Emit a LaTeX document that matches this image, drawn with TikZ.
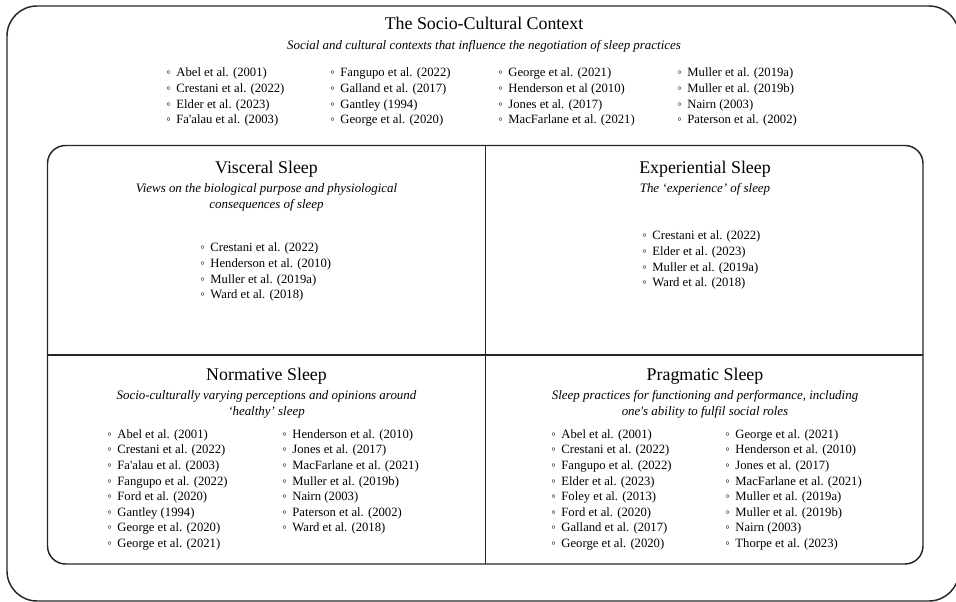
\documentclass[tikz,border=0pt]{standalone}
\usepackage{fontspec}
\setmainfont{Liberation Serif}
\tikzset{%
  frame/.style   = {draw=black!85, line width=1.1pt},%
  heading/.style = {font=\fontsize{13.4}{16}\selectfont, inner sep=0pt, anchor=base},%
  gloss/.style   = {font=\fontsize{9.7}{11.7}\selectfont\itshape, align=center,%
                    inner sep=0pt, anchor=base},%
  cite/.style    = {font=\fontsize{9.5}{11.7}\selectfont, inner sep=0pt, anchor=base west}%
}
% one column of sources, one node per line
\newcommand\citecol[4]{%
  \foreach \src [count=\i] in {#4}
    \node[cite] (#1-\i) at (#2,{#3+15.6*(\i-1)}) {◦\hspace{0.45em}\src};}

\begin{document}
\begin{tikzpicture}[x=0.75pt,y=-0.75pt]
	\useasboundingbox (0,0) rectangle (956,602);
	\clip (0,0) rectangle (956,602);
	% outer frame and the four quadrants
	\draw[frame, rounded corners=22.5pt] (7,6) rectangle (959,601);
	\draw[frame, rounded corners=13.5pt] (47.5,145.5) rectangle (923,564);
	\coordinate (midtop) at (485.5,145.5);
	\coordinate (midbot) at (485.5,564);
	\coordinate (midleft) at (47.5,355);
	\coordinate (midright) at (923,355);
	\draw[frame] (midtop) -- (midbot);
	\draw[frame] (midleft) -- (midright);
	% socio-cultural context
	\node[heading] (ctx) at (484,30) {The Socio-Cultural Context};
	\node[gloss] (ctx-sub) at (484,50) {Social and cultural contexts that influence the negotiation of sleep practices};
	\citecol{ctxa}{166}{77}{Abel et al. (2001),Crestani et al. (2022),Elder et al. (2023),Fa\textquotesingle alau et al. (2003)}
	\citecol{ctxb}{330}{77}{Fangupo et al. (2022),Galland et al. (2017),Gantley (1994),George et al. (2020)}
	\citecol{ctxc}{498}{77}{George et al. (2021),Henderson et al (2010),Jones et al. (2017),MacFarlane et al. (2021)}
	\citecol{ctxd}{677}{77}{Muller et al. (2019a),Muller et al. (2019b),Nairn (2003),Paterson et al. (2002)}
	% visceral (two-line glosses sit on their last baseline)
	\node[heading] (vis) at (266.5,173.3) {Visceral Sleep};
	\node[gloss] (vis-sub) at (266.5,208.3) {Views on the biological purpose and physiological\\consequences of sleep};
	\citecol{visa}{200}{252}{Crestani et al. (2022),Henderson et al. (2010),Muller et al. (2019a),Ward et al. (2018)}
	% experiential
	\node[heading] (exp) at (705,173.3) {Experiential Sleep};
	\node[gloss] (exp-sub) at (705,192.7) {The ‘experience’ of sleep};
	\citecol{expa}{642}{240}{Crestani et al. (2022),Elder et al. (2023),Muller et al. (2019a),Ward et al. (2018)}
	% normative
	\node[heading] (nor) at (266.5,380.7) {Normative Sleep};
	\node[gloss] (nor-sub) at (266.5,415) {Socio-culturally varying perceptions and opinions around\\‘healthy’ sleep};
	\citecol{nora}{107}{438.3}{Abel et al. (2001),Crestani et al. (2022),Fa\textquotesingle alau et al. (2003),Fangupo et al. (2022),Ford et al. (2020),Gantley (1994),George et al. (2020),George et al. (2021)}
	\citecol{norb}{282}{438.3}{Henderson et al. (2010),Jones et al. (2017),MacFarlane et al. (2021),Muller et al. (2019b),Nairn (2003),Paterson et al. (2002),Ward et al. (2018)}
	% pragmatic
	\node[heading] (pra) at (705,380.7) {Pragmatic Sleep};
	\node[gloss] (pra-sub) at (705,415) {Sleep practices for functioning and performance, including\\one\textquotesingle s ability to fulfil social roles};
	\citecol{praa}{551}{438.3}{Abel et al. (2001),Crestani et al. (2022),Fangupo et al. (2022),Elder et al. (2023),Foley et al. (2013),Ford et al. (2020),Galland et al. (2017),George et al. (2020)}
	\citecol{prab}{725}{438.3}{George et al. (2021),Henderson et al. (2010),Jones et al. (2017),MacFarlane et al. (2021),Muller et al. (2019a),Muller et al. (2019b),Nairn (2003),Thorpe et al. (2023)}
\end{tikzpicture}
\end{document}
